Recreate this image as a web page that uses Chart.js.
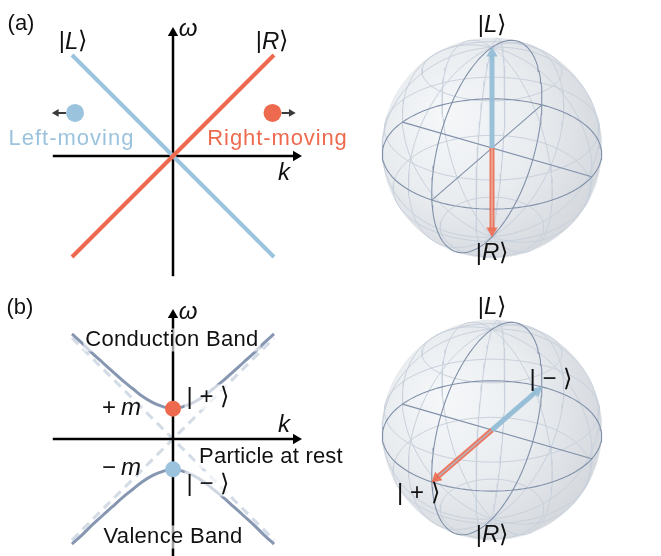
<!DOCTYPE html>
<html>
<head>
<meta charset="utf-8">
<script src="https://cdn.jsdelivr.net/npm/chart.js@4.4.1/dist/chart.umd.min.js"></script>
<style>
  html, body { margin: 0; padding: 0; background: #fff; }
  #wrap { position: relative; width: 661px; height: 556px; overflow: hidden; }
  canvas { position: absolute; }
</style>
</head>
<body>
<div id="wrap">
  <canvas id="dirac" width="360" height="280" style="left:0;top:0"></canvas>
  <canvas id="massive" width="360" height="276" style="left:0;top:280px"></canvas>
  <canvas id="blochA" width="301" height="280" style="left:360px;top:0"></canvas>
  <canvas id="blochB" width="301" height="276" style="left:360px;top:280px"></canvas>
</div>
<script>
// ---- data ----
// (a) massless dispersion: two straight branches
const K_LINE = [-1, 1];
const OMEGA_LEFT = [1, -1];
const OMEGA_RIGHT = [-1, 1];
const MOVER_K = [-0.97, 0.985];      // blue (left-moving), red (right-moving)
const MOVER_OMEGA = [0.426, 0.426];

// (b) massive dispersion (m ~ 0.3)
const BAND_K = [-1, -0.9, -0.8, -0.7, -0.6, -0.5, -0.4, -0.3, -0.2, -0.1, 0,
                0.1, 0.2, 0.3, 0.4, 0.5, 0.6, 0.7, 0.8, 0.9, 1];
const CONDUCTION = [1.04, 0.95, 0.85, 0.76, 0.67, 0.58, 0.50, 0.42, 0.36, 0.32, 0.30,
                    0.32, 0.36, 0.42, 0.50, 0.58, 0.67, 0.76, 0.85, 0.95, 1.04];
const VALENCE = [-1.04, -0.95, -0.85, -0.76, -0.67, -0.58, -0.50, -0.42, -0.36, -0.32, -0.30,
                 -0.32, -0.36, -0.42, -0.50, -0.58, -0.67, -0.76, -0.85, -0.95, -1.04];
const ASYMPTOTE_UP = [-1, 1];
const ASYMPTOTE_DOWN = [1, -1];

// Bloch vectors (x, y, z)
const BLOCH_A = [[0, 0, 1], [0, 0, -1]];     // |L>, |R>
const BLOCH_B = [[-1, 0, 0], [1, 0, 0]];     // |->, |+>
const POLES = [[0, 0, 1], [0, 0, -1]];

// ---- style ----
const FONT = '"Liberation Sans", Arial, Helvetica, sans-serif';
const BLUE = '#9cc3dd';
const RED = '#ee6a4f';
const BAND = '#8797b1';
const DASH = '#d3dbe6';
const INK = '#111';
const FRAME = '#8191a9';
const GRID = '#c9d1dc';

// ---- helpers ----
const pts = (xs, ys) => xs.map((x, i) => ({x, y: ys[i]}));
function line(data, color, width, extra) {
  return Object.assign({data, showLine: true, borderColor: color, borderWidth: width,
    pointRadius: 0, fill: false, tension: 0}, extra || {});
}
function head(x, y, rot, color, r) {
  return {data: [{x, y}], showLine: false, pointStyle: 'triangle', pointRadius: r,
    pointRotation: rot, backgroundColor: color, borderColor: color, borderWidth: 0};
}
function dot(x, y, color, r) {
  return {data: [{x, y}], showLine: false, pointStyle: 'circle', pointRadius: r,
    backgroundColor: color, borderWidth: 0};
}
const ket = (s, it) => [{t: '|'}, {t: s, it: it}, {t: '\u27E9'}];
const MATH = 24;

function textLayer(labels) {
  return {
    id: 'textLayer',
    afterDatasetsDraw(chart) {
      const c = chart.ctx, sx = chart.scales.x, sy = chart.scales.y;
      labels.forEach(l => {
        const size = l.size || 22;
        c.save();
        c.letterSpacing = (l.ls || 0) + 'px';
        const fonts = l.runs.map(r => (r.it ? 'italic ' : '') + size + 'px ' + FONT);
        const widths = l.runs.map((r, i) => { c.font = fonts[i]; return c.measureText(r.t).width; });
        const total = widths.reduce((a, b) => a + b, 0);
        const px = sx.getPixelForValue(l.x), py = sy.getPixelForValue(l.y);
        let x0 = l.align === 'left' ? px : px - total / 2;
        const base = l.base || 'middle';
        c.textBaseline = base;
        c.textAlign = 'left';
        if (l.halo) {
          const top = base === 'middle' ? py - 0.55 * size : py - 0.8 * size;
          c.fillStyle = 'rgba(255,255,255,0.62)';
          c.fillRect(x0 - 2, top, total + 4, 1.05 * size);
        }
        c.fillStyle = l.color || INK;
        l.runs.forEach((r, i) => { c.font = fonts[i]; c.fillText(r.t, x0, py); x0 += widths[i]; });
        c.restore();
      });
    }
  };
}

function makeChart(id, range, datasets, labels) {
  return new Chart(document.getElementById(id), {
    type: 'scatter',
    data: {datasets: datasets.slice().reverse()},
    options: {
      responsive: false, animation: false, devicePixelRatio: 1, events: [],
      layout: {padding: 0, autoPadding: false},
      plugins: {legend: {display: false}, tooltip: {enabled: false}},
      scales: {
        x: {type: 'linear', display: false, min: range[0], max: range[1]},
        y: {type: 'linear', display: false, min: range[2], max: range[3]}
      }
    },
    plugins: [textLayer(labels)]
  });
}

// ---- axes with arrow heads (units: 1 = 101 px) ----
function axes(kNeg, kTip, wNeg, wTip) {
  const h = 6 / 101;
  return [
    line(pts([kNeg, kTip - 1.3 * h], [0, 0]), '#000', 2.5),
    head(kTip - h, 0, 90, '#000', 6),
    line(pts([0, 0], [wNeg, wTip - 1.3 * h]), '#000', 2.5),
    head(0, wTip - h, 0, '#000', 6)
  ];
}

// ---- (a) massless ----
const moverArrow = (k, w, sgn) => [
  line(pts([k + sgn * 0.09, k + sgn * 0.19], [w, w]), '#3a3a3a', 2),
  head(k + sgn * 0.185, w, sgn * 90, '#3a3a3a', 4.5)
];
makeChart('dirac', [-173 / 101, 187 / 101, -124 / 101, 156 / 101], [
  ...axes(-1.19, 1.277, -1.19, 1.277),
  line(pts(K_LINE, OMEGA_LEFT), BLUE, 4),
  line(pts(K_LINE, OMEGA_RIGHT), RED, 4),
  ...moverArrow(MOVER_K[0], MOVER_OMEGA[0], -1),
  ...moverArrow(MOVER_K[1], MOVER_OMEGA[1], 1),
  dot(MOVER_K[0], MOVER_OMEGA[0], BLUE, 9),
  dot(MOVER_K[1], MOVER_OMEGA[1], RED, 9)
], [
  {x: -1.505, y: 1.307, runs: [{t: '(a)'}]},
  {x: -0.99, y: 1.13, size: MATH, runs: ket('L', 1)},
  {x: 0.98, y: 1.13, size: MATH, runs: ket('R', 1)},
  {x: 0.15, y: 1.25, size: MATH, runs: [{t: '\u03C9', it: 1}]},
  {x: 1.10, y: -0.17, size: MATH, runs: [{t: 'k', it: 1}]},
  {x: -1.005, y: 0.109, base: 'alphabetic', color: BLUE, ls: 1, runs: [{t: 'Left-moving'}]},
  {x: 1.035, y: 0.109, base: 'alphabetic', color: RED, ls: 0.9, runs: [{t: 'Right-moving'}]}
]);

// ---- (b) massive ----
const mid = BAND_K.indexOf(0);
makeChart('massive', [-173 / 101, 187 / 101, -117 / 101, 159 / 101], [
  line(pts(K_LINE, ASYMPTOTE_UP), DASH, 3, {borderDash: [9, 6]}),
  line(pts(K_LINE, ASYMPTOTE_DOWN), DASH, 3, {borderDash: [9, 6]}),
  ...axes(-1.19, 1.277, -1.17, 1.287),
  line(pts(BAND_K, CONDUCTION), BAND, 3, {tension: 0.4}),
  line(pts(BAND_K, VALENCE), BAND, 3, {tension: 0.4}),
  dot(0, CONDUCTION[mid], RED, 8),
  dot(0, VALENCE[mid], BLUE, 8)
], [
  {x: -1.515, y: 1.297, runs: [{t: '(b)'}]},
  {x: 0.15, y: 1.25, size: MATH, runs: [{t: '\u03C9', it: 1}]},
  {x: -0.01, y: 0.921, base: 'alphabetic', halo: 1, runs: [{t: 'Conduction Band'}], ls: 0.3},
  {x: 0.345, y: 0.41, halo: 1, size: MATH, runs: [{t: '| + '}, {t: '\u27E9'}]},
  {x: -0.51, y: 0.30, size: MATH, runs: [{t: '+\u2009'}, {t: 'm', it: 1}]},
  {x: 1.10, y: 0.135, size: MATH, runs: [{t: 'k', it: 1}]},
  {x: 0.97, y: -0.238, base: 'alphabetic', halo: 1, runs: [{t: 'Particle at rest'}], ls: 0.2},
  {x: -0.51, y: -0.29, size: MATH, runs: [{t: '\u2212\u2009'}, {t: 'm', it: 1}]},
  {x: 0.345, y: -0.45, halo: 1, size: MATH, runs: [{t: '| \u2212 '}, {t: '\u27E9'}]},
  {x: 0, y: -1.03, base: 'alphabetic', halo: 1, runs: [{t: 'Valence Band'}], ls: 0.3}
]);

// ---- Bloch spheres (qutip-like view: azim -60, elev 30, mild perspective) ----
const AZIM = -60 * Math.PI / 180, ELEV = 30 * Math.PI / 180, DIST = 8;
const toPlot = b => [b[1], -b[0], b[2]];
function proj(p) {
  const ca = Math.cos(AZIM), sa = Math.sin(AZIM), ce = Math.cos(ELEV), se = Math.sin(ELEV);
  const sx = -sa * p[0] + ca * p[1];
  const sy = -se * ca * p[0] - se * sa * p[1] + ce * p[2];
  const dep = ce * ca * p[0] + ce * sa * p[1] + se * p[2];
  const f = DIST / (DIST - dep);
  return {x: sx * f, y: sy * f};
}
function curve(fn, n) {
  const out = [];
  for (let i = 0; i <= n; i++) out.push(proj(fn(i / n)));
  return out;
}
const MERIDIANS = [0, 37.5, 75, 112.5, 150, 180, -142.5, -105, -67.5, -30];
const PARALLELS = [37.5, 75, 112.5, 150];

function sphereGradient(ctx) {
  const ch = ctx.chart;
  if (!ch.chartArea) return '#eceef1';
  const x = ch.scales.x, y = ch.scales.y;
  const r = x.getPixelForValue(1.25) - x.getPixelForValue(0);
  const g = ch.ctx.createRadialGradient(x.getPixelForValue(-0.45), y.getPixelForValue(0.3), 0,
    x.getPixelForValue(-0.2), y.getPixelForValue(0.15), r);
  g.addColorStop(0, '#f5f7f9');
  g.addColorStop(0.55, '#eaedf0');
  g.addColorStop(1, '#d5d9de');
  return g;
}

function vector(b, color, inner) {
  const tip = proj(toPlot(b));
  const len = Math.hypot(tip.x, tip.y);
  const ux = tip.x / len, uy = tip.y / len, h = 6 / 109;
  const rot = Math.atan2(ux, uy) * 180 / Math.PI;
  const end = {x: tip.x - ux * 1.3 * h, y: tip.y - uy * 1.3 * h};
  const out = [line([{x: 0, y: 0}, end], color, 5, {borderCapStyle: 'butt'})];
  if (inner) out.push(line([{x: 0, y: 0}, end], inner, 1.4));
  out.push(head(tip.x - ux * h, tip.y - uy * h, rot, color, 6.5));
  return out;
}

function sphere(id, range, vecs, kets) {
  const rs = DIST / Math.sqrt(DIST * DIST - 1);
  const ds = [];
  // silhouette filled with shaded surface colour
  const sil = [];
  for (let i = 0; i <= 120; i++) {
    const a = 2 * Math.PI * i / 120;
    sil.push({x: rs * Math.cos(a), y: rs * Math.sin(a)});
  }
  ds.push(line(sil, '#e3e6ea', 0.8, {fill: 'shape', backgroundColor: sphereGradient}));
  MERIDIANS.forEach(d => {
    const ph = d * Math.PI / 180;
    ds.push(line(curve(t => {
      const th = Math.PI * t;
      return [Math.cos(ph) * Math.sin(th), Math.sin(ph) * Math.sin(th), Math.cos(th)];
    }, 60), GRID, 1));
  });
  PARALLELS.forEach(d => {
    const th = d * Math.PI / 180;
    ds.push(line(curve(t => {
      const u = 2 * Math.PI * t;
      return [Math.cos(u) * Math.sin(th), Math.sin(u) * Math.sin(th), Math.cos(th)];
    }, 90), GRID, 1));
  });
  ds.push(line(curve(t => [Math.cos(2 * Math.PI * t), Math.sin(2 * Math.PI * t), 0], 120), FRAME, 1.1));
  ds.push(line(curve(t => [0, Math.cos(2 * Math.PI * t), Math.sin(2 * Math.PI * t)], 120), FRAME, 1.1));
  ds.push(line([proj([-1, 0, 0]), proj([1, 0, 0])], FRAME, 1.1));
  ds.push(line([proj([0, -1, 0]), proj([0, 1, 0])], FRAME, 1.1));
  vecs.forEach(v => ds.push(...vector(v.b, v.color, v.inner)));
  const labels = kets.map(k => {
    const p = proj(toPlot(k.b.map(v => v * 1.2)));
    return {x: p.x, y: p.y, size: MATH, runs: k.runs};
  });
  makeChart(id, range, ds, labels);
}

sphere('blochA', [-132 / 109, 169 / 109, -132 / 109, 148 / 109], [
  {b: BLOCH_A[1], color: 'rgba(236,106,80,0.9)', inner: 'rgba(235,190,180,0.8)'},
  {b: BLOCH_A[0], color: 'rgba(150,190,215,0.95)'}
], [
  {b: POLES[0], runs: ket('L', 1)},
  {b: POLES[1], runs: ket('R', 1)}
]);

sphere('blochB', [-132 / 109, 169 / 109, -126 / 109, 150 / 109], [
  {b: BLOCH_B[1], color: 'rgba(236,106,80,0.9)', inner: 'rgba(175,188,205,0.9)'},
  {b: BLOCH_B[0], color: 'rgba(150,190,215,0.95)'}
], [
  {b: POLES[0], runs: ket('L', 1)},
  {b: POLES[1], runs: ket('R', 1)},
  {b: BLOCH_B[0], runs: [{t: '| \u2212 '}, {t: '\u27E9'}]},
  {b: BLOCH_B[1], runs: [{t: '| + '}, {t: '\u27E9'}]}
]);
</script>
</body>
</html>
